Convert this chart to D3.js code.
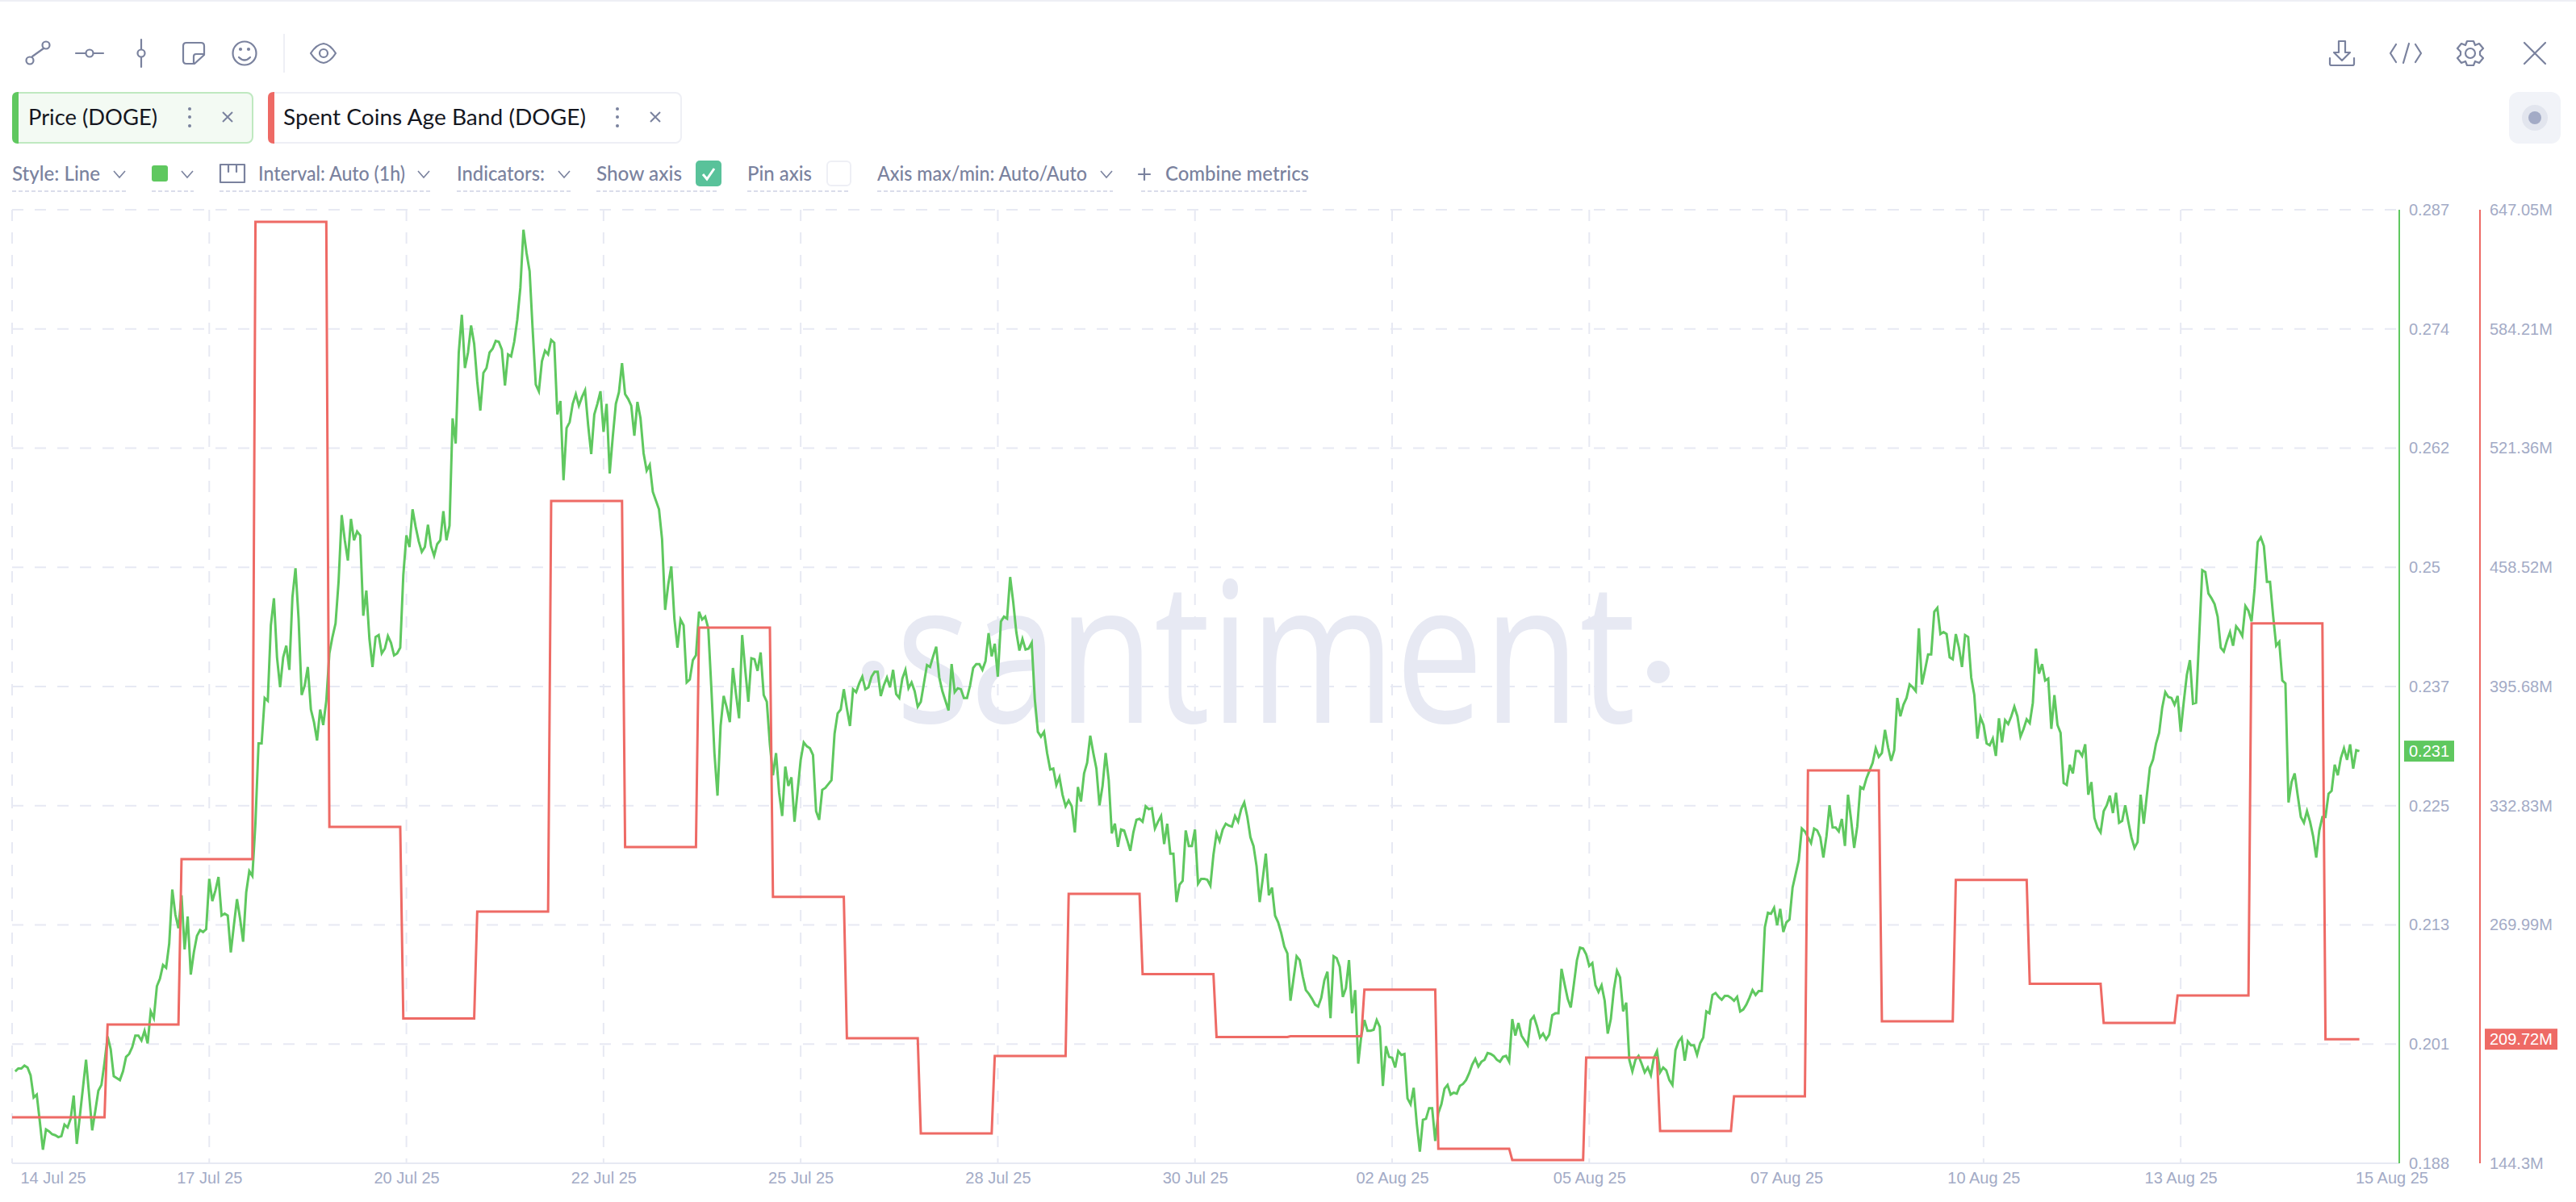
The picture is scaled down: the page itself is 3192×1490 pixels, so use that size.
<!DOCTYPE html>
<html><head><meta charset="utf-8">
<style>
html,body{margin:0;padding:0;background:#fff;width:3192px;height:1490px;overflow:hidden}
svg{display:block}
text{font-family:"Lato",sans-serif}
.ax text{font-family:"Liberation Sans",Arial,sans-serif;font-size:20px;fill:#A3ABC6}
.ax path,.ax line{display:none}
.opt{font-size:24px;fill:#7A829E;font-weight:500}
.chip{font-size:27px;fill:#15171F}
</style>
<script src="https://cdnjs.cloudflare.com/ajax/libs/d3/7.8.5/d3.min.js"></script>
</head><body>
<svg id="c" width="3192" height="1490" xmlns="http://www.w3.org/2000/svg"></svg>
<script>
// ---- data ----
const dateLabels = ["14 Jul 25","17 Jul 25","20 Jul 25","22 Jul 25","25 Jul 25","28 Jul 25","30 Jul 25","02 Aug 25","05 Aug 25","07 Aug 25","10 Aug 25","13 Aug 25","15 Aug 25"];
const dateLabelHours = [0,64,128,192,256,320,384,448,512,576,640,704,768];
const priceTicks = [0.1882,0.20052,0.21284,0.22516,0.23748,0.2498,0.26212,0.27444,0.28676];
const spentTicks = [144.3,207.14,269.99,332.83,395.68,458.52,521.36,584.21,647.05];
const latestPrice = 0.2308;
const latestSpent = 209.72;
// hourly price, first reading one hour after the chart start
const priceUsd = [
.1977,.1980,.1980,.1983,.1981,.1973,.1950,.1953,.1925,.1896,
.1917,.1915,.1912,.1911,.1909,.1910,.1922,.1919,.1928,.1952,
.1902,.1931,.1960,.1989,.1953,.1916,.1936,.1957,.1963,.1986,
.2013,.2000,.1972,.1970,.1968,.1977,.1992,.1995,.2002,.2014,
.2014,.2009,.2019,.2006,.2039,.2032,.2065,.2073,.2087,.2084,
.2109,.2165,.2139,.2125,.2159,.2103,.2137,.2077,.2100,.2117,
.2123,.2121,.2124,.2176,.2153,.2164,.2178,.2138,.2140,.2138,
.2100,.2128,.2155,.2135,.2111,.2162,.2184,.2179,.2234,.2316,
.2316,.2363,.2360,.2438,.2466,.2405,.2374,.2405,.2417,.2392,
.2467,.2497,.2445,.2366,.2376,.2395,.2351,.2338,.2319,.2351,
.2335,.2360,.2409,.2426,.2440,.2484,.2552,.2526,.2505,.2548,
.2526,.2535,.2531,.2448,.2474,.2424,.2395,.2426,.2428,.2409,
.2414,.2427,.2420,.2407,.2409,.2415,.2490,.2531,.2519,.2558,
.2540,.2525,.2514,.2519,.2542,.2520,.2510,.2522,.2526,.2556,
.2526,.2541,.2652,.2626,.2720,.2759,.2704,.2720,.2748,.2729,
.2690,.2660,.2699,.2704,.2720,.2724,.2732,.2731,.2723,.2686,
.2718,.2716,.2731,.2754,.2787,.2847,.2823,.2804,.2743,.2687,
.2680,.2711,.2722,.2718,.2733,.2730,.2656,.2670,.2588,.2642,
.2648,.2667,.2677,.2665,.2674,.2681,.2645,.2615,.2656,.2667,
.2680,.2638,.2667,.2595,.2633,.2667,.2679,.2709,.2677,.2672,
.2665,.2634,.2669,.2652,.2616,.2598,.2604,.2576,.2567,.2558,
.2527,.2454,.2480,.2499,.2445,.2415,.2444,.2438,.2379,.2382,
.2402,.2407,.2452,.2444,.2447,.2435,.2373,.2306,.2262,.2334,
.2365,.2353,.2338,.2394,.2367,.2342,.2428,.2392,.2359,.2404,
.2403,.2391,.2410,.2366,.2359,.2315,.2283,.2306,.2265,.2241,
.2292,.2272,.2281,.2235,.2267,.2299,.2317,.2313,.2311,.2304,
.2246,.2237,.2268,.2270,.2274,.2278,.2326,.2347,.2351,.2372,
.2352,.2334,.2372,.2369,.2378,.2385,.2372,.2374,.2385,.2390,
.2390,.2365,.2376,.2384,.2374,.2392,.2367,.2363,.2383,.2392,
.2373,.2379,.2370,.2354,.2359,.2378,.2397,.2395,.2406,.2416,
.2384,.2370,.2360,.2350,.2398,.2369,.2373,.2372,.2363,.2363,
.2376,.2394,.2398,.2398,.2392,.2401,.2430,.2406,.2419,.2385,
.2442,.2447,.2445,.2488,.2462,.2431,.2412,.2424,.2413,.2414,
.2420,.2362,.2328,.2323,.2328,.2306,.2289,.2290,.2273,.2281,
.2263,.2251,.2257,.2251,.2224,.2271,.2256,.2285,.2296,.2324,
.2306,.2290,.2252,.2272,.2306,.2278,.2223,.2233,.2209,.2227,
.2226,.2216,.2205,.2224,.2237,.2238,.2235,.2251,.2248,.2249,
.2228,.2235,.2241,.2212,.2233,.2202,.2202,.2152,.2170,.2174,
.2226,.2210,.2210,.2227,.2171,.2176,.2176,.2175,.2169,.2201,
.2223,.2215,.2227,.2233,.2231,.2230,.2241,.2235,.2248,.2255,
.2240,.2219,.2210,.2189,.2152,.2176,.2202,.2159,.2167,.2138,
.2131,.2120,.2106,.2099,.2050,.2073,.2096,.2092,.2075,.2061,
.2057,.2052,.2046,.2044,.2053,.2071,.2080,.2032,.2096,.2094,
.2085,.2054,.2063,.2092,.2037,.2061,.1985,.2014,.2030,.2019,
.2019,.2020,.2030,.2023,.1962,.2003,.1992,.1991,.1981,.1998,
.1994,.1995,.1949,.1943,.1960,.1923,.1894,.1927,.1928,.1939,
.1939,.1905,.1934,.1943,.1959,.1963,.1953,.1955,.1954,.1962,
.1964,.1968,.1975,.1984,.1990,.1982,.1987,.1989,.1996,.1995,
.1993,.1989,.1987,.1992,.1993,.1987,.2031,.2014,.2027,.2014,
.2009,.2004,.2030,.2034,.2024,.2012,.2016,.2010,.2015,.2035,
.2037,.2037,.2083,.2067,.2052,.2043,.2067,.2092,.2105,.2104,
.2098,.2086,.2089,.2066,.2059,.2066,.2050,.2016,.2031,.2062,
.2081,.2074,.2039,.2048,.1989,.1977,.1989,.1993,.1985,.1976,
.1981,.1973,.1991,.1998,.1976,.1981,.1978,.1968,.1963,.1999,
.2008,.2012,.1988,.2008,.2004,.2004,.1994,.2006,.2012,.2039,
.2037,.2056,.2058,.2054,.2051,.2055,.2055,.2053,.2050,.2054,
.2039,.2041,.2046,.2053,.2061,.2056,.2060,.2060,.2126,.2141,
.2140,.2146,.2128,.2145,.2121,.2131,.2134,.2167,.2181,.2195,
.2228,.2225,.2219,.2213,.2228,.2226,.2219,.2198,.2220,.2252,
.2229,.2229,.2225,.2238,.2210,.2263,.2237,.2208,.2230,.2271,
.2269,.2280,.2288,.2296,.2311,.2302,.2306,.2330,.2312,.2298,
.2309,.2363,.2344,.2356,.2363,.2377,.2374,.2370,.2435,.2377,
.2392,.2408,.2408,.2452,.2456,.2429,.2431,.2429,.2405,.2403,
.2429,.2415,.2395,.2428,.2426,.2384,.2366,.2321,.2343,.2335,
.2316,.2314,.2321,.2303,.2342,.2317,.2340,.2336,.2344,.2354,
.2344,.2323,.2331,.2341,.2337,.2358,.2414,.2388,.2398,.2381,
.2383,.2331,.2366,.2335,.2327,.2275,.2273,.2294,.2285,.2308,
.2308,.2303,.2315,.2263,.2276,.2239,.2229,.2224,.2246,.2252,
.2262,.2244,.2265,.2234,.2236,.2252,.2235,.2219,.2208,.2214,
.2263,.2233,.2262,.2291,.2299,.2316,.2327,.2353,.2369,.2364,
.2363,.2356,.2365,.2328,.2359,.2387,.2402,.2357,.2358,.2426,
.2495,.2493,.2471,.2466,.2460,.2447,.2415,.2411,.2422,.2431,
.2417,.2437,.2433,.2427,.2458,.2453,.2442,.2476,.2524,.2529,
.2520,.2483,.2483,.2448,.2417,.2421,.2381,.2378,.2255,.2276,
.2285,.2262,.2240,.2234,.2246,.2235,.2220,.2198,.2226,.2240,
.2240,.2264,.2267,.2294,.2283,.2301,.2311,.2299,.2315,.2290,.2309,.2308];
// daily totals, million coins (the first one covers the partial opening period)
const spentMillions = [168.5,217.5,304.7,640.7,321.7,220.6,277.0,493.5,311.0,426.7,284.8,210.2,160.0,200.9,286.4,244.0,210.9,211.3,235.9,152.0,146.0,200.0,161.3,179.6,351.4,219.2,293.7,238.9,218.3,232.8,429.0,209.72];
const firstDayEndHour = 30, hoursPerDay = 24, lastHour = 762;

// ---- layout ----
const L=15, B=1442, T=260, greenX=2973, redX=3073, hourPx=3.817;
const GREEN="#5FC85F", RED="#EE6A65", GRID="#E7E9F3", ICON="#7A829E";

const x = d3.scaleLinear().domain([0,768]).range([L, L+768*hourPx]);
const yP = d3.scaleLinear().domain([priceTicks[0],priceTicks[8]]).range([B,T]);
const yS = d3.scaleLinear().domain([spentTicks[0],spentTicks[8]]).range([B,T]);
const svg = d3.select("#c");

// top strip
svg.append("rect").attr("width",3192).attr("height",2).attr("fill","#EEEFF5");

// watermark
const wm = svg.append("g").attr("fill","#E7E9F3");
wm.append("text").attr("x",1110).attr("y",896).attr("textLength",917).attr("lengthAdjust","spacingAndGlyphs")
  .style("font-family","'Open Sans'").style("font-size","243px").text("santiment");
wm.append("circle").attr("cx",1082).attr("cy",833).attr("r",14);
wm.append("circle").attr("cx",2055).attr("cy",833).attr("r",14);

// grid
const grid = svg.append("g").attr("stroke",GRID).attr("stroke-width",2).attr("stroke-dasharray","14 14").attr("fill","none");
grid.selectAll("line.h").data(priceTicks.slice(1)).join("line").attr("class","h")
  .attr("x1",L).attr("x2",greenX-3).attr("y1",d=>yP(d)).attr("y2",d=>yP(d));
grid.selectAll("line.v").data(dateLabelHours.slice(0,12)).join("line").attr("class","v")
  .attr("x1",d=>x(d)).attr("x2",d=>x(d)).attr("y1",T).attr("y2",B);
svg.append("line").attr("x1",L).attr("x2",greenX).attr("y1",B).attr("y2",B).attr("stroke",GRID).attr("stroke-width",2);

// series
const pricePts = priceUsd.map((v,i)=>({h:i+1,v}));
const spentPts = spentMillions.flatMap((v,i)=>{
  const start = i===0?0:firstDayEndHour+1+(i-1)*hoursPerDay;
  const end = i===spentMillions.length-1?lastHour:firstDayEndHour+i*hoursPerDay;
  return [{h:start,v},{h:end,v}];
});
svg.append("path").datum(pricePts).attr("fill","none").attr("stroke",GREEN).attr("stroke-width",3).attr("stroke-linejoin","miter")
  .attr("d",d3.line().x(d=>x(d.h)).y(d=>yP(d.v)));
svg.append("path").datum(spentPts).attr("fill","none").attr("stroke",RED).attr("stroke-width",3).attr("stroke-linejoin","miter")
  .attr("d",d3.line().x(d=>x(d.h)).y(d=>yS(d.v)));

// axes
const gx = svg.append("g").attr("class","ax").attr("transform",`translate(0,${B})`)
  .call(d3.axisBottom(x).tickValues(dateLabelHours).tickFormat((d,i)=>dateLabels[i]).tickSize(0).tickPadding(11));
gx.selectAll("text").filter((d,i)=>i===0).attr("text-anchor","start").attr("dx",10);
gx.selectAll("text").filter((d,i)=>i===12).attr("dx",17);
svg.append("g").attr("class","ax").attr("transform",`translate(${greenX},0)`)
  .call(d3.axisRight(yP).tickValues(priceTicks).tickFormat(d3.format(".3~f")).tickSize(0).tickPadding(12));
svg.append("g").attr("class","ax").attr("transform",`translate(${redX},0)`)
  .call(d3.axisRight(yS).tickValues(spentTicks).tickFormat(d=>d3.format(".2~f")(d)+"M").tickSize(0).tickPadding(12));
svg.append("line").attr("x1",greenX).attr("x2",greenX).attr("y1",T).attr("y2",B).attr("stroke",GREEN).attr("stroke-width",2);
svg.append("line").attr("x1",redX).attr("x2",redX).attr("y1",T).attr("y2",B).attr("stroke",RED).attr("stroke-width",2);

// last value badges
function badge(ax,y,w,col,txt){
  svg.append("rect").attr("x",ax+6).attr("y",y-13).attr("width",w).attr("height",26).attr("fill",col);
  svg.append("text").attr("x",ax+12).attr("y",y).attr("dy",".34em").attr("fill","#fff")
    .style("font-family","'Liberation Sans'").style("font-size","20px").text(txt);
}
badge(greenX,yP(latestPrice),62,GREEN,d3.format(".3f")(latestPrice));
badge(redX,yS(latestSpent),90,RED,d3.format(".2f")(latestSpent)+"M");

// ---- toolbar icons ----
const ic = svg.append("g").attr("fill","none").attr("stroke",ICON).attr("stroke-width",2.2).attr("stroke-linecap","round").attr("stroke-linejoin","round");
function P(d){ic.append("path").attr("d",d);}
function C(cx,cy,r){ic.append("circle").attr("cx",cx).attr("cy",cy).attr("r",r);}
P("M40 70L54 60");C(37,75,4.5);C(57,56,4.5);
P("M94 66H106M116 66H128");C(111,66,4.5);
P("M175 49V61M175 71V83");C(175,66,4.5);
P("M231 53H249Q253 53 253 57V68L241 79H231Q227 79 227 75V57Q227 53 231 53ZM253 67H243Q240 67 240 70V79");
C(303,66,14.5);P("M296 71Q303 78 310 71");
ic.append("circle").attr("cx",298).attr("cy",61).attr("r",1).attr("fill",ICON);
ic.append("circle").attr("cx",308).attr("cy",61).attr("r",1).attr("fill",ICON);
// eye
P("M385 66Q392 55 401 54Q409 55 416 66Q409 77 401 78Q392 77 385 66Z");C(401,66,5);
svg.append("line").attr("x1",352).attr("x2",352).attr("y1",42).attr("y2",90).attr("stroke","#EEEFF5").attr("stroke-width",2);
// right side icons
P("M2898 51H2906V65H2912L2902 75L2892 65H2898ZM2887 72V79Q2887 81 2889 81H2915Q2917 81 2917 79V72");
P("M2969 55L2962 66L2969 77M2993 55L3000 66L2993 77M2985 54L2978 78");
C(3061,66,6);
P("M3057 51H3065L3067 56L3072 54L3077 60L3073 64V68L3077 72L3072 78L3067 76L3065 81H3057L3055 76L3050 78L3045 72L3049 68V64L3045 60L3050 54L3055 56Z");
P("M3128 53L3154 79M3154 53L3128 79");
// record button
svg.append("rect").attr("x",3109).attr("y",114).attr("width",64).attr("height",64).attr("rx",12).attr("fill","#F1F3F8");
svg.append("circle").attr("cx",3141).attr("cy",146).attr("r",16).attr("fill","#E2E5EE");
svg.append("circle").attr("cx",3141).attr("cy",146).attr("r",8).attr("fill","#A3ABC6");

// ---- metric chips ----
function chip(x0,x1,accent,fill,border,label,textX,textW,dotX,closeX){
  svg.append("rect").attr("x",x0+1).attr("y",115).attr("width",x1-x0-2).attr("height",62).attr("rx",7).attr("fill",fill).attr("stroke",border).attr("stroke-width",2);
  svg.append("path").attr("d",`M${x0+8} 114H${x0+7}Q${x0} 114 ${x0} 121V171Q${x0} 178 ${x0+7} 178H${x0+8}Z`).attr("fill",accent);
  svg.append("text").attr("class","chip").attr("x",textX).attr("y",155).attr("textLength",textW).attr("lengthAdjust","spacingAndGlyphs").text(label);
  [135,145,156].forEach(cy=>svg.append("circle").attr("cx",dotX).attr("cy",cy).attr("r",2).attr("fill",ICON));
  svg.append("path").attr("d",`M${closeX-6} 139L${closeX+6} 151M${closeX+6} 139L${closeX-6} 151`).attr("stroke",ICON).attr("stroke-width",2).attr("fill","none");
}
chip(15,314,GREEN,"#F3FAF3","#BFE9C0","Price (DOGE)",35,160,235,282);
chip(332,845,RED,"#fff","#EEEFF5","Spent Coins Age Band (DOGE)",351,375,765,812);

// ---- options row ----
function opt(x0,label,w){svg.append("text").attr("class","opt").attr("x",x0).attr("y",224).attr("textLength",w).attr("lengthAdjust","spacingAndGlyphs").text(label);}
function chev(cx){svg.append("path").attr("d",`M${cx-7} 212L${cx} 220L${cx+7} 212`).attr("fill","none").attr("stroke",ICON).attr("stroke-width",1.6);}
function under(a,b){svg.append("line").attr("x1",a).attr("x2",b).attr("y1",237).attr("y2",237).attr("stroke","#DADDEA").attr("stroke-width",2).attr("stroke-dasharray","5 3");}
opt(15,"Style: Line",109);chev(148);under(15,156);
svg.append("rect").attr("x",188).attr("y",205).attr("width",20).attr("height",20).attr("rx",3).attr("fill",GREEN);chev(232);under(188,240);
P("M273 204H303V226H273ZM283 204V213M293 204V213");
opt(320,"Interval: Auto (1h)",182);chev(525);under(272,533);
opt(566,"Indicators:",109);chev(699);under(566,707);
opt(739,"Show axis",106);under(739,890);
svg.append("rect").attr("x",862).attr("y",199).attr("width",32).attr("height",32).attr("rx",5).attr("fill","#59C29A");
svg.append("path").attr("d","M871 216L876 222L885 209").attr("fill","none").attr("stroke","#fff").attr("stroke-width",3);
opt(926,"Pin axis",80);under(926,1052);
svg.append("rect").attr("x",1025).attr("y",200).attr("width",29).attr("height",30).attr("rx",5).attr("fill","#fff").attr("stroke","#EEEFF5").attr("stroke-width",2);
opt(1087,"Axis max/min: Auto/Auto",260);chev(1371);under(1087,1379);
P("M1411 216H1425M1418 209V223");
opt(1444,"Combine metrics",178);under(1414,1622);
</script>
</body></html>
